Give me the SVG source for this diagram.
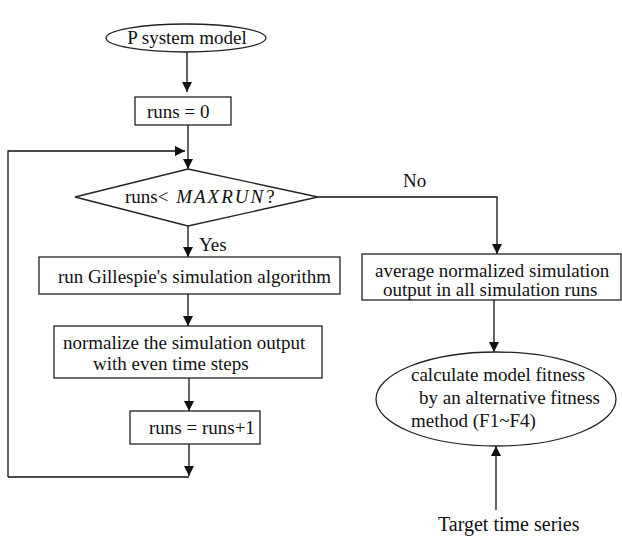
<svg xmlns="http://www.w3.org/2000/svg" width="622" height="536" viewBox="0 0 622 536">
<defs>
<marker id="ah" viewBox="0 0 10 10" refX="10" refY="5" markerWidth="10" markerHeight="10" markerUnits="userSpaceOnUse" orient="auto">
<path d="M0,0 L10,5 L0,10 z" fill="#111"/>
</marker>
<style>
.s{fill:#fff;stroke:#222;stroke-width:1.3}
.t{font-family:"Liberation Serif","Times New Roman",serif;font-size:19px;fill:#111}
.c{fill:none;stroke:#111;stroke-width:1.3}
</style>
</defs>
<rect width="622" height="536" fill="#fff"/>
<g id="connectors">
<path class="c" d="M187,52 V92" marker-end="url(#ah)"/>
<path class="c" d="M188,125 V169" marker-end="url(#ah)"/>
<path class="c" d="M8,477 V151 H185"/>
<path d="M185,151 l-10,-5 v10 z" fill="#111"/>
<path class="c" d="M188,226 V257" marker-end="url(#ah)"/>
<path class="c" d="M188,294 V326" marker-end="url(#ah)"/>
<path class="c" d="M189,378 V411" marker-end="url(#ah)"/>
<path class="c" d="M189,444 V476" marker-end="url(#ah)"/>
<path class="c" d="M8,477 H189"/>
<path class="c" d="M318,197 H497 V254" marker-end="url(#ah)"/>
<path class="c" d="M494,300 V352" marker-end="url(#ah)"/>
<path class="c" d="M496,510 V446" marker-end="url(#ah)"/>
<text class="t" x="199" y="251">Yes</text>
<text class="t" x="403" y="187">No</text>
</g>
<g id="start">
<ellipse class="s" cx="186" cy="38" rx="80" ry="14"/>
<text class="t" x="187" y="44" text-anchor="middle">P system model</text>
</g>
<g id="init">
<rect class="s" x="135" y="97" width="96" height="28"/>
<text class="t" x="147" y="118">runs = 0</text>
</g>
<g id="decision">
<polygon class="s" points="188,169 318,197 188,226 75,197"/>
<text class="t" x="125" y="203">runs&lt; <tspan dx="3" font-style="italic" letter-spacing="2">MAXRUN</tspan><tspan dx="1">?</tspan></text>
</g>
<g id="gillespie">
<rect class="s" x="39" y="257" width="301" height="37"/>
<text class="t" x="58" y="283">run Gillespie's simulation algorithm</text>
</g>
<g id="normalize">
<rect class="s" x="54" y="326" width="268" height="52"/>
<text class="t" x="63" y="349">normalize the simulation output</text>
<text class="t" x="93" y="370">with even time steps</text>
</g>
<g id="increment">
<rect class="s" x="130" y="411" width="130" height="33"/>
<text class="t" x="149" y="434">runs = runs+1</text>
</g>
<g id="average">
<rect class="s" x="362" y="254" width="259" height="46"/>
<text class="t" x="375" y="277">average normalized simulation</text>
<text class="t" x="383" y="296">output in all simulation runs</text>
</g>
<g id="fitness">
<ellipse class="s" cx="496" cy="399" rx="120" ry="47"/>
<text class="t" x="411" y="381">calculate model fitness</text>
<text class="t" x="419" y="404">by an alternative fitness</text>
<text class="t" x="411" y="427">method (F1~F4)</text>
</g>
<g id="target">
<text class="t" x="438" y="531" style="font-size:20px">Target time series</text>
</g>
</svg>
